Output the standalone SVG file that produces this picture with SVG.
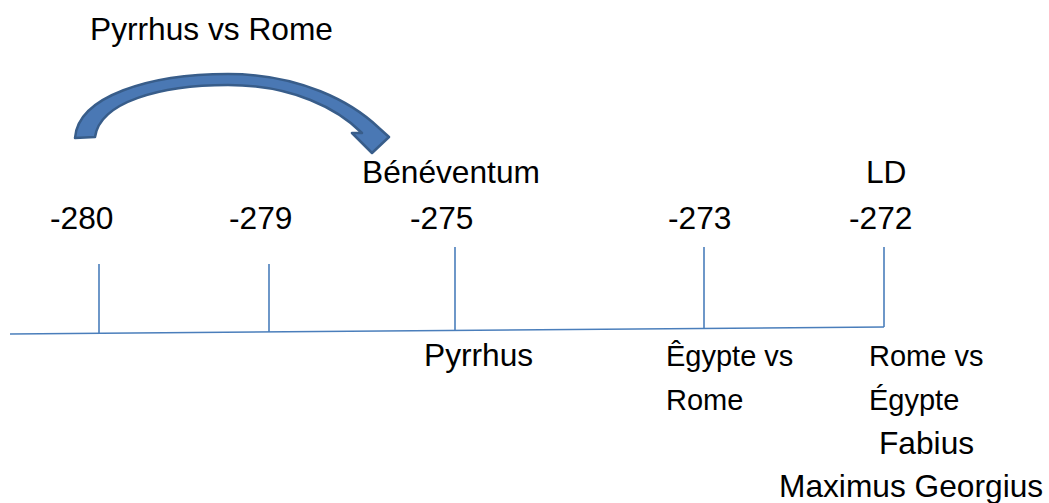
<svg xmlns="http://www.w3.org/2000/svg" width="1049" height="503" viewBox="0 0 1049 503">
<style>
text{font-family:"Liberation Sans",Arial,sans-serif;fill:#000}
.t{font-size:31.7px}
.s{font-size:29px}
.ln{stroke:#4a7ebb;stroke-width:1.6;fill:none}
.arr{fill:#4a78b4;stroke:#385d8a;stroke-width:2.5;stroke-linejoin:round}
</style>
<rect width="1049" height="503" fill="#fff"/>
<g id="title"><text class="t" x="90" y="40">Pyrrhus vs Rome</text></g>
<g id="connectors">
<path class="arr" d="M75,138 C78,96 150,74 228,74 C300,74 352,102 379,128 L389,137 L372,153 L352,133 L362,133 C338,109 293,85 228,85 C160,85 100,102 95,137 Z"/>
<path class="ln" d="M10,334 L884,327"/>
<path class="ln" d="M99,333 V264"/>
<path class="ln" d="M269,332 V264"/>
<path class="ln" d="M455,331 V247"/>
<path class="ln" d="M704,329 V247"/>
<path class="ln" d="M884,327 V247"/>
</g>
<g id="n280"><text class="t" x="50" y="229">-280</text></g>
<g id="n279"><text class="t" x="229" y="229">-279</text></g>
<g id="n275"><text class="t" x="410" y="229">-275</text><text class="t" x="362" y="183">Bénéventum</text><text class="t" x="424" y="366">Pyrrhus</text></g>
<g id="n273"><text class="t" x="668" y="229">-273</text><text class="s" x="666" y="366">Êgypte vs</text><text class="s" x="666" y="410">Rome</text></g>
<g id="n272"><text class="t" x="849" y="229">-272</text><text class="t" x="866" y="183">LD</text><text class="s" x="869" y="366">Rome vs</text><text class="s" x="869" y="410">Égypte</text><text class="t" x="879" y="454">Fabius</text><text class="t" x="779" y="497">Maximus Georgius</text></g>
</svg>
